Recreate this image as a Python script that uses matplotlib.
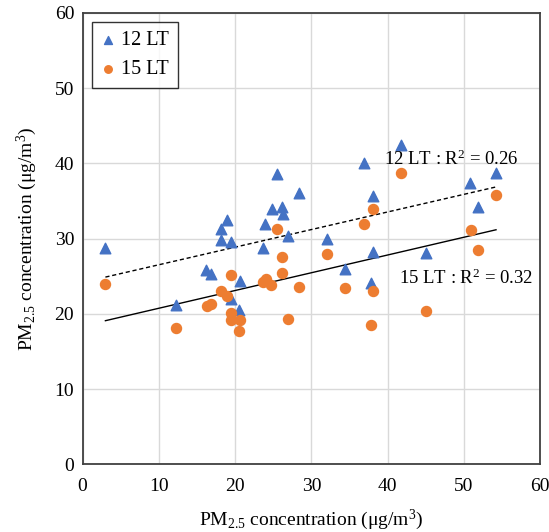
import numpy as np
import matplotlib.pyplot as plt

plt.rcParams['font.family'] = ['Liberation Serif', 'DejaVu Serif']
plt.rcParams['mathtext.default'] = 'regular'

# 12 LT samples
x12 = [3.0, 12.3, 16.2, 16.9, 18.1, 18.9, 18.1, 19.4, 20.6, 19.4, 20.5,
       23.9, 24.8, 25.5, 26.1, 26.3, 28.4, 23.6, 26.9, 32.1, 34.4, 36.9,
       38.1, 38.1, 37.8, 41.7, 50.8, 54.2, 51.8, 45.0]
y12 = [28.8, 21.2, 25.8, 25.3, 31.3, 32.5, 29.8, 29.5, 24.4, 22.0, 20.5,
       32.0, 34.0, 38.6, 34.2, 33.3, 36.1, 28.8, 30.3, 29.9, 26.0, 40.0,
       35.7, 28.3, 24.1, 42.5, 37.4, 38.7, 34.2, 28.1]

# 15 LT samples
x15 = [3.0, 12.3, 16.3, 16.9, 18.1, 18.9, 19.4, 19.4, 19.4, 20.6, 20.5,
       23.7, 24.0, 24.7, 25.5, 26.1, 26.2, 26.9, 28.4, 32.1, 34.4, 36.9,
       38.1, 38.1, 37.8, 41.7, 45.0, 50.9, 51.8, 54.2]
y15 = [24.0, 18.2, 21.1, 21.3, 23.1, 22.4, 25.2, 20.1, 19.2, 19.2, 17.7,
       24.3, 24.6, 23.9, 31.3, 27.6, 25.5, 19.4, 23.6, 28.0, 23.5, 32.0,
       34.0, 23.0, 18.5, 38.7, 20.4, 31.2, 28.5, 35.8]

# linear trends as shown on the chart (slope, intercept)
trend12 = [0.234, 24.2]
trend15 = [0.236, 18.4]

blue = '#4472C4'
orange = '#ED7D31'

fig = plt.figure(figsize=(5.49, 5.32), dpi=100)
ax = fig.add_axes([0.1503, 0.1269, 0.8338, 0.8487])

ax.scatter(x12, y12, marker='^', s=58, color=blue, label='12 LT', zorder=3)
ax.scatter(x15, y15, marker='o', s=52, color=orange, label='15 LT', zorder=3)

for xs, (k, b), ls in [(x12, trend12, (0, (3, 2))), (x15, trend15, '-')]:
    xx = np.array([min(xs), max(xs)])
    ax.plot(xx, k * xx + b, color='black', lw=1.0, linestyle=ls, zorder=2)

ax.text(48.4, 40.6, '12 LT : R$^2$ = 0.26', fontsize=13.5, ha='center', va='center')
ax.text(50.3, 24.8, '15 LT : R$^2$ = 0.32', fontsize=13.5, ha='center', va='center')

ax.set_xlim(0, 60)
ax.set_ylim(0, 60)
ax.set_xticks(range(0, 61, 10))
ax.set_yticks(range(0, 61, 10))
ax.grid(True, color='#d9d9d9', lw=1.0)
ax.set_axisbelow(True)
ax.tick_params(length=0, labelsize=14)
ax.tick_params(axis='x', pad=10)
ax.tick_params(axis='y', pad=6)
for s in ax.spines.values():
    s.set_color('#404040')
    s.set_linewidth(1.3)

ax.set_xlabel('PM$_{2.5}$ concentration (μg/m$^3$)', fontsize=14, labelpad=9)
ax.set_ylabel('PM$_{2.5}$ concentration (μg/m$^3$)', fontsize=14, labelpad=11)

leg = ax.legend(loc='upper left', fontsize=14.5, frameon=True, fancybox=False,
                edgecolor='black', handletextpad=0.3, borderpad=0.45,
                handlelength=0.7, labelspacing=0.5, borderaxespad=0.45,
                markerscale=0.75)
leg.get_frame().set_linewidth(1.0)

fig.savefig('out.png', dpi=100)
